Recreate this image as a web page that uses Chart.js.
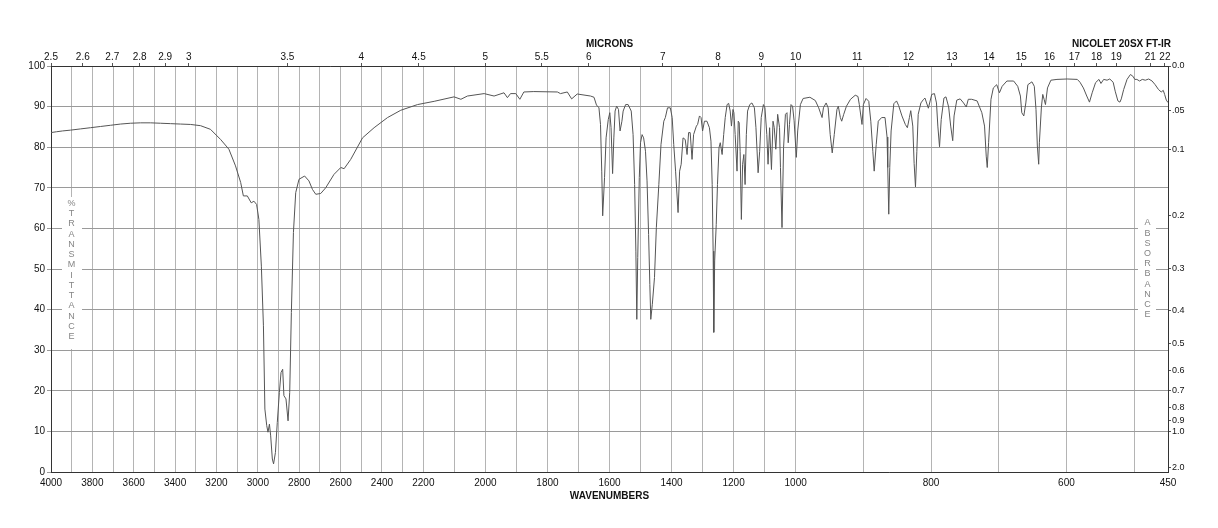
<!DOCTYPE html>
<html>
<head>
<meta charset="utf-8">
<script src="https://cdn.jsdelivr.net/npm/chart.js@4/dist/chart.umd.min.js"></script>
<style>
  html, body { margin: 0; padding: 0; background: #ffffff; }
  #wrap { width: 1218px; height: 528px; position: relative; }
</style>
</head>
<body>
<div id="wrap"><canvas id="c" width="1218" height="528"></canvas></div>
<script>
// ---------------- DATA ----------------
const wavenumbers = [
  4000,3974,3945,3906,3858,3809,3761,3712,3664,3616,3567,3519,3470,3422,3374,3325,3277,3229,3180,3140,
  3108,3083,3070,3051,3032,3019,3006,2995,2983,2973,2966,2957,2951,2944,2938,2930,2924,2915,2906,2896,
  2888,2880,2874,2864,2854,2846,2838,2828,2817,2801,2774,2753,2736,2720,2696,2672,2632,2599,2583,2551,
  2494,2438,2373,2309,2228,2165,2101,2079,2058,2004,1972,1940,1929,1919,1902,1889,1876,1844,1768,1758,
  1736,1722,1704,1661,1650,1642,1634,1629,1625,1622,1616,1611,1604,1599,1595,1590,1586,1582,1577,1571,
  1566,1560,1556,1548,1540,1530,1524,1519,1515,1512,1509,1504,1500,1495,1490,1484,1479,1474,1470,1467,
  1462,1455,1449,1441,1434,1425,1420,1413,1404,1398,1393,1387,1379,1374,1369,1363,1356,1350,1345,1340,
  1334,1329,1320,1316,1310,1305,1300,1294,1286,1278,1273,1269,1266,1264,1261,1256,1252,1247,1243,1237,
  1232,1227,1221,1216,1211,1207,1202,1199,1195,1189,1185,1182,1179,1175,1171,1167,1163,1159,1155,1148,
  1141,1133,1128,1121,1116,1111,1104,1099,1093,1089,1084,1078,1073,1069,1064,1058,1052,1049,1044,1039,
  1033,1028,1024,1020,1015,1010,1005,999,997,993,989,979,971,966,961,959,955,952,949,946,
  943,939,937,934,932,929,925,919,912,908,906,902,900,896,892,889,886,884,881,878,
  873,868,865,864,862.5,861,859,855,851,848,843,838,835,832,830,827,825,823,821,819,
  815,811,809,804,799,795,792,790,787.5,785,781,778,774,771,768,766,762,757,752,748,
  745,740,732,725,721,718.5,717,715,711.5,708,703,699,695,688,678,672,668,666,663,660,
  657,651,647.5,645,643,641,640,637,635,633,631,628,623,614,599,584,580,575,570,566,
  562,557,552,549,545,540,536,531,528,524,521,519,515.5,510.5,505.5,502,499,496,492,488,
  483.5,478.5,473.5,469,464,460,457,455,452.5,450
];
const transmittance = [
  83.6,83.8,84.0,84.2,84.5,84.8,85.1,85.4,85.7,85.9,86.0,86.0,85.9,85.8,85.7,85.6,85.3,84.4,81.9,79.5,
  75.4,71.3,68.0,68.0,66.3,66.7,65.9,62.2,50.7,36.0,15.5,11.4,9.8,11.8,8.9,3.2,2.0,4.8,12.2,19.6,
  24.5,25.3,18.8,18.0,12.6,19.6,39.3,59.0,68.8,72.1,72.9,71.7,69.6,68.4,68.6,70.0,73.3,75.0,74.7,77.0,
  82.3,84.8,87.3,89.1,90.5,91.3,92.4,91.8,92.6,93.2,92.6,93.4,92.2,93.2,93.2,91.8,93.6,93.7,93.6,93.2,
  93.6,91.9,93.1,92.6,92.3,90.4,89.7,85.6,74.1,63.1,72.5,82.3,86.8,88.5,84.8,73.5,82.3,88.9,90.1,89.3,
  84.0,86.4,88.9,90.5,90.5,88.9,83.1,70.8,54.4,37.6,52.8,72.5,81.1,83.1,82.3,79.0,71.7,58.5,46.2,37.6,
  41.3,47.9,60.2,70.8,80.7,86.4,87.3,89.7,89.7,87.3,80.7,74.1,63.9,74.1,75.8,82.3,81.9,78.2,83.6,83.6,
  77.0,83.1,85.2,85.6,87.7,87.3,84.0,86.4,86.4,84.8,81.5,70.8,54.4,34.4,52.0,61.0,70.8,79.9,81.1,78.2,
  83.1,87.3,90.5,90.8,88.9,85.2,89.3,88.5,83.1,74.1,86.4,86.0,79.0,62.2,75.8,78.2,70.8,83.1,88.9,90.5,
  90.9,89.7,84.8,73.7,79.0,87.3,90.5,89.7,83.1,75.8,84.8,74.5,86.4,84.8,79.5,88.1,84.8,75.0,60.2,79.9,
  88.1,88.5,81.1,85.6,90.5,90.1,86.5,77.5,84.0,90.5,92.0,92.3,91.5,89.7,87.3,89.7,90.9,89.7,83.1,78.6,
  83.1,89.3,90.1,87.3,86.4,88.1,90.1,91.8,92.8,92.5,90.5,85.6,90.5,92.0,91.3,86.4,79.0,74.1,80.7,86.4,
  87.3,87.3,82.5,75.0,63.5,75.0,84.0,90.7,91.4,90.3,87.7,85.6,84.8,87.3,89.0,85.2,76.0,70.2,79.0,88.1,
  90.9,91.8,92.1,89.6,93.0,93.2,90.9,85.2,80.1,86.8,92.1,92.4,89.9,85.2,81.6,87.7,91.6,91.9,90.9,89.9,
  91.8,91.8,91.4,88.5,85.2,77.8,75.0,81.1,91.8,94.6,95.4,93.4,95.0,96.3,96.3,95.0,92.6,88.5,87.7,90.9,
  95.4,96.1,95.0,89.3,80.3,75.8,81.1,89.9,93.0,91.8,90.5,94.6,96.5,96.7,96.8,96.7,96.0,94.6,92.6,91.1,
  93.4,95.9,96.7,95.7,96.7,96.5,96.8,96.0,93.8,91.4,91.1,91.9,94.2,96.7,97.9,97.5,96.7,96.7,96.3,96.7,
  96.5,96.8,96.3,95.4,94.2,93.6,94.0,93.0,91.6,91.0
];

// grid / tick definitions
const wavenumberGrid = [4000,3900,3800,3700,3600,3500,3400,3300,3200,3100,3000,2900,2800,2700,2600,2500,2400,2300,2200,2100,2000,
  1900,1800,1700,1600,1500,1400,1300,1200,1100,1000,900,800,700,600,500,450];
const wavenumberLabels = [4000,3800,3600,3400,3200,3000,2800,2600,2400,2200,2000,1800,1600,1400,1200,1000,800,600,450];
const micronLabels = [2.5,2.6,2.7,2.8,2.9,3,3.5,4,4.5,5,5.5,6,7,8,9,10,11,12,13,14,15,16,17,18,19,21,22];
const transmittanceTicks = [0,10,20,30,40,50,60,70,80,90,100];
const absorbanceTicks = [0,0.05,0.1,0.2,0.3,0.4,0.5,0.6,0.7,0.8,0.9,1.0,2.0];
const absorbanceLabels = ['0.0','.05','0.1','0.2','0.3','0.4','0.5','0.6','0.7','0.8','0.9','1.0','2.0'];
// the wavenumber axis is drawn in three equal-width linear segments
const scaleBreaks = [4000, 2200, 1000, 450];

// ---------------- SEGMENTED SCALE ----------------
function toFraction(v) {
  const b = scaleBreaks, n = b.length - 1;
  for (let i = 0; i < n; i++) {
    if (v >= b[i + 1] || i === n - 1) return (i + (b[i] - v) / (b[i] - b[i + 1])) / n;
  }
  return 0;
}
function fromFraction(f) {
  const b = scaleBreaks, n = b.length - 1;
  const s = f * n;
  const i = Math.min(n - 1, Math.max(0, Math.floor(s)));
  return b[i] - (s - i) * (b[i] - b[i + 1]);
}
class SegmentedScale extends Chart.LinearScale {
  getPixelForValue(value) { return this.left + toFraction(value) * this.width; }
  getValueForPixel(pixel) { return fromFraction((pixel - this.left) / this.width); }
}
SegmentedScale.id = 'segmented';
SegmentedScale.defaults = Chart.LinearScale.defaults;
Chart.register(SegmentedScale);

const FONT = '"Liberation Sans", Arial, Helvetica, sans-serif';

const sideTexts = {
  id: 'sideTexts',
  beforeDatasetsDraw(chart) {
    const {ctx, chartArea: a} = chart;
    ctx.save();
    ctx.fillStyle = '#ffffff';
    ctx.fillRect(a.left + 11, 197, 20, 152);
    ctx.fillRect(a.right - 30, 215, 18, 106);
    ctx.fillStyle = '#858585';
    ctx.font = '9px ' + FONT;
    ctx.textAlign = 'center';
    ctx.textBaseline = 'middle';
    Array.from('%TRANSMITTANCE').forEach((ch, i) => ctx.fillText(ch, a.left + 20.5, 203.5 + i * 10.25));
    Array.from('ABSORBANCE').forEach((ch, i) => ctx.fillText(ch, a.right - 20.5, 223 + i * 10.2));
    ctx.restore();
  },
  afterDraw(chart) {
    const {ctx, chartArea: a} = chart;
    ctx.save();
    ctx.fillStyle = '#111';
    ctx.font = 'bold 10px ' + FONT;
    ctx.textAlign = 'right';
    ctx.textBaseline = 'middle';
    ctx.fillText('NICOLET 20SX FT-IR', a.right + 3, 44);
    ctx.restore();
  }
};

new Chart(document.getElementById('c'), {
  type: 'line',
  data: {
    datasets: [{
      data: wavenumbers.map((w, i) => ({x: w, y: transmittance[i]})),
      borderColor: '#555555',
      borderWidth: 1,
      pointRadius: 0,
      tension: 0,
      fill: false
    }]
  },
  options: {
    responsive: false,
    animation: false,
    events: [],
    layout: {padding: 0},
    plugins: {legend: {display: false}, tooltip: {enabled: false}},
    scales: {
      x: {
        type: 'segmented', position: 'bottom', min: 450, max: 4000,
        afterBuildTicks: axis => { axis.ticks = wavenumberGrid.map(v => ({value: v})); },
        afterFit: s => { s.height = 56; },
        grid: {display: true, drawOnChartArea: true, drawTicks: false, color: '#b4b4b4', lineWidth: 1},
        border: {display: true, color: '#333', width: 1},
        ticks: {
          autoSkip: false, maxRotation: 0, minRotation: 0, padding: 5, color: '#111',
          font: {family: FONT, size: 10},
          callback: v => wavenumberLabels.includes(v) ? String(v) : ''
        },
        title: {display: true, text: 'WAVENUMBERS', color: '#111', font: {family: FONT, size: 10, weight: 'bold'},
                padding: {top: 0, bottom: 26}}
      },
      xTop: {
        type: 'segmented', position: 'top', min: 450, max: 4000,
        afterBuildTicks: axis => { axis.ticks = micronLabels.map(m => ({value: 10000 / m})); },
        afterFit: s => { s.height = 66; },
        grid: {display: true, drawOnChartArea: false, drawTicks: true, tickLength: 3, color: '#555'},
        border: {display: true, color: '#333', width: 1},
        ticks: {
          autoSkip: false, maxRotation: 0, minRotation: 0, padding: 0, color: '#111',
          font: {family: FONT, size: 10},
          callback: (v, i) => String(micronLabels[i])
        },
        title: {display: true, text: 'MICRONS', color: '#111', font: {family: FONT, size: 10, weight: 'bold'},
                padding: {top: 38, bottom: 0}}
      },
      y: {
        type: 'linear', position: 'left', min: 0, max: 100,
        afterBuildTicks: axis => { axis.ticks = transmittanceTicks.map(v => ({value: v})); },
        afterFit: s => { s.width = 51; },
        grid: {display: true, drawOnChartArea: true, drawTicks: true, tickLength: 4, color: '#9a9a9a'},
        border: {display: true, color: '#333', width: 1},
        ticks: {padding: 2, color: '#111', font: {family: FONT, size: 10}}
      },
      yAbs: {
        type: 'linear', position: 'right', min: 0, max: 100,
        afterBuildTicks: axis => { axis.ticks = absorbanceTicks.map(a => ({value: 100 * Math.pow(10, -a)})); },
        afterFit: s => { s.width = 50; },
        grid: {display: true, drawOnChartArea: false, drawTicks: true, tickLength: 3, color: '#555'},
        border: {display: true, color: '#333', width: 1},
        ticks: {
          autoSkip: false, padding: 1, color: '#111', font: {family: FONT, size: 9},
          callback: (v, i) => absorbanceLabels[i]
        }
      }
    }
  },
  plugins: [sideTexts]
});
</script>
</body>
</html>
